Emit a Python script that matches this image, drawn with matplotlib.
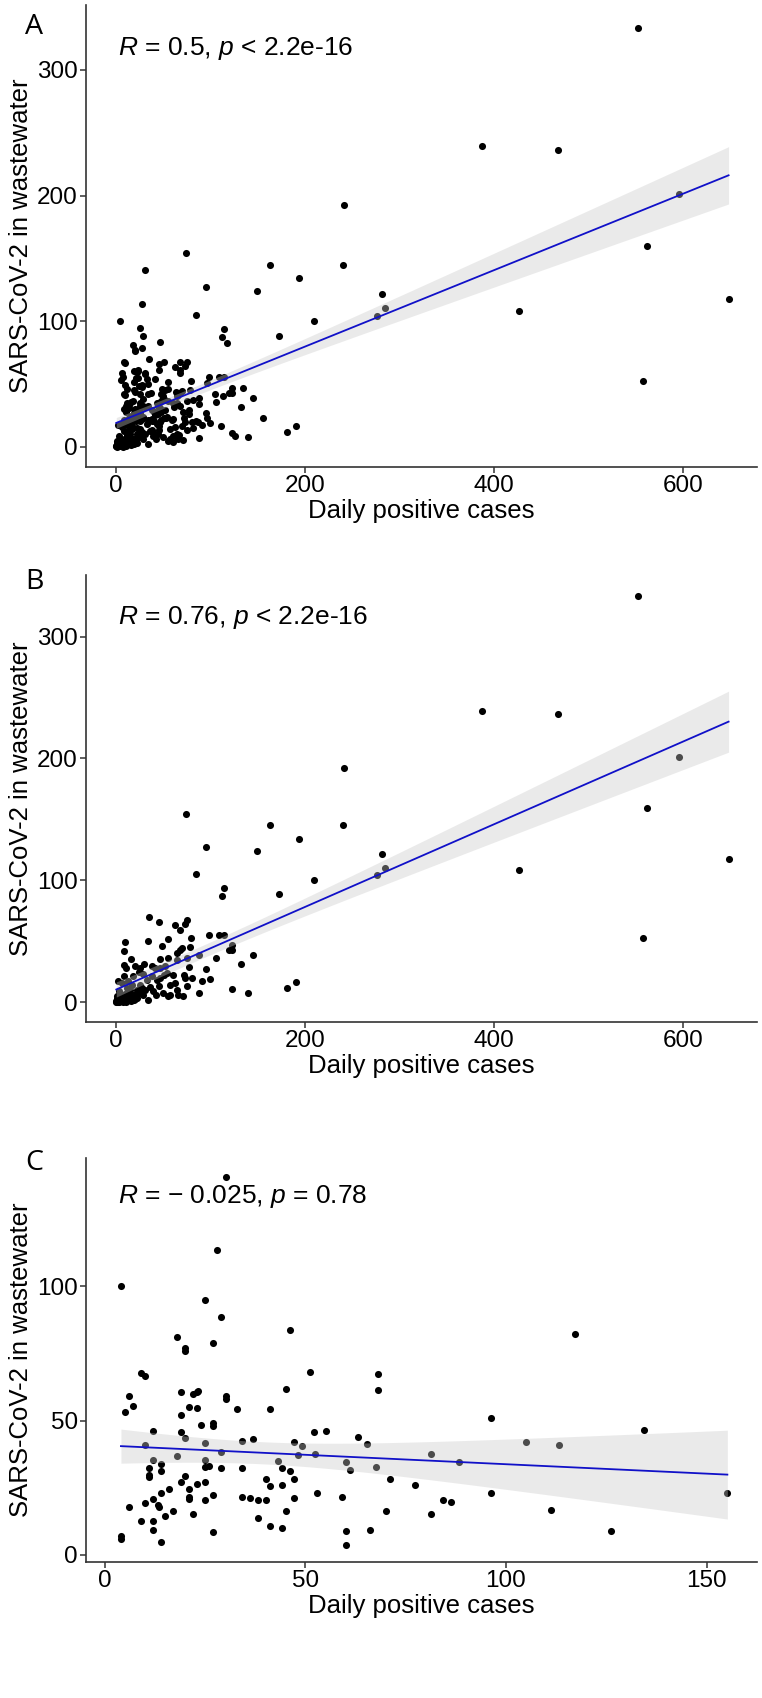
import numpy as np
import matplotlib
matplotlib.use('Agg')
import matplotlib.pyplot as plt

plt.rcParams['font.family'] = ['Liberation Sans', 'DejaVu Sans']
plt.rcParams['mathtext.fontset'] = 'custom'
plt.rcParams['mathtext.rm'] = 'Liberation Sans'
plt.rcParams['mathtext.it'] = 'Liberation Sans:italic'

# panel B: days with larger case counts (and the low cluster)
x_b = [73.9, 95.4, 84.2, 114.4, 112.0, 162.7, 149.3, 193.7, 209.2, 172.9, 241.2, 240.5,
       275.7, 281.2, 284.8, 387.6, 467.7, 552.5, 595.0, 561.7, 426.2, 647.9, 557.4, 180.6,
       190.5, 145.0, 140.1, 131.7, 122.9,
       34.9, 45.8, 62.3, 68.0, 75.4, 72.9, 79.2, 54.9, 34.2, 9.9, 8.1, 48.6, 69.7, 68.0,
       78.2, 98.2, 108.8, 114.4, 122.9, 119.0, 122.9, 105.6, 88.0, 95.1, 99.3, 91.2, 88.0,
       15.5, 8.5, 10.6, 29.9, 37.7, 46.5, 51.8, 54.6, 64.4, 74.6, 64.1, 76.8, 73.2, 80.9,
       71.8, 60.6, 62.3, 53.5, 57.0, 55.3, 65.8, 70.4, 43.0, 45.8, 42.3, 33.1, 28.9, 23.9,
       18.3, 25.4, 21.8, 28.9, 34.2, 18.3, 14.8, 11.3, 2.5, 6.0, 13.0, 8.5, 50.7, 46.5,
       41.5, 57.0, 64.1, 74.6,
       0.5, 1.5, 2.5, 3.0, 4.0, 5.0, 6.0, 7.0, 8.0, 9.0, 10.0, 12.0, 13.0, 15.0, 16.0,
       20.0, 24.0, 27.0, 31.0, 36.0, 39.0, 50.0, 47.0, 38.0, 20.0, 25.0, 12.0, 3.0, 1.0, 17.0,
       0.3, 0.8, 1.2, 2.0, 2.8, 3.5, 4.5, 5.5, 6.5, 7.5, 8.5, 9.5, 11.0, 12.5, 14.0,
       16.0, 18.0, 19.5, 21.0, 22.5, 1.0, 3.2, 5.2, 7.2, 10.5]
y_b = [154.1, 127.3, 104.9, 94.0, 87.4, 145.1, 123.8, 134.2, 100.0, 88.5, 192.1, 145.1,
       104.4, 121.6, 110.4, 239.1, 236.3, 333.3, 201.6, 159.8, 108.5, 117.5, 52.7, 11.7,
       16.7, 38.8, 7.7, 31.7, 11.2,
       69.7, 66.1, 63.4, 59.0, 67.8, 64.2, 52.7, 51.6, 50.0, 49.2, 42.3, 45.9, 44.5, 43.2,
       45.1, 55.5, 55.5, 55.5, 46.7, 43.2, 43.2, 36.1, 39.1, 27.3, 18.9, 17.8, 7.4,
       35.8, 30.3, 28.1, 31.4, 29.5, 28.4, 29.5, 36.3, 40.4, 36.3, 35.0, 29.2, 19.7, 19.7,
       22.7, 22.4, 15.8, 24.0, 14.5, 4.9, 6.3, 5.5, 18.6, 13.1, 6.3, 18.6, 23.5, 24.6,
       21.3, 14.5, 10.4, 6.3, 2.2, 6.3, 3.6, 4.9, 17.2, 15.8, 17.2, 21.3, 22.7, 35.5,
       28.1, 6.3, 10.4, 13.1,
       1.0, 2.5, 0.5, 3.5, 1.5, 5.0, 2.0, 0.8, 3.5, 6.5, 1.5, 8.0, 2.5, 10.0, 6.0,
       3.0, 8.0, 12.0, 10.0, 13.0, 9.0, 8.0, 20.0, 22.0, 30.0, 28.0, 12.0, 9.0, 5.0, 14.0,
       0.4, 1.8, 0.2, 1.2, 2.2, 0.6, 3.0, 1.0, 4.2, 1.6, 0.9, 3.8, 0.7, 5.2, 2.4,
       1.4, 4.6, 2.0, 6.8, 3.4, 2.8, 4.8, 6.0, 0.3, 2.6]

# panel C: days with lower case counts
x_c = [4.0, 4.0, 4.0, 4.9, 6.0, 6.9, 6.0, 8.9, 10.0, 8.9, 10.0, 10.0, 12.0, 12.0, 11.0,
       11.0, 11.0, 12.0, 13.2, 13.4, 12.0, 12.0, 14.0, 14.0, 14.0, 14.0, 15.0, 16.0, 17.0,
       18.0, 18.0, 19.1, 19.1, 19.1, 19.1, 20.0, 20.0, 20.0, 20.0, 21.0, 21.0, 21.0, 21.0,
       22.0, 22.0, 23.0, 23.3, 23.0, 23.0, 24.0, 25.0, 25.0, 25.0, 25.0, 26.0, 25.0, 25.0,
       27.0, 27.0, 27.0, 27.0, 27.0, 28.0, 29.0, 29.0, 29.0, 30.2, 30.2, 30.2, 33.0, 34.2,
       34.2, 34.2, 36.1, 37.0, 38.1, 38.1, 40.2, 40.2, 41.2, 41.2, 41.2, 43.2, 44.2, 44.2,
       44.2, 45.2, 45.2, 46.2, 46.2, 47.2, 47.2, 47.2, 48.2, 49.2, 51.2, 52.2, 52.3, 53.0,
       55.2, 59.0, 60.2, 60.2, 60.2, 61.2, 63.2, 65.4, 66.2, 67.5, 68.2, 68.2,
       71.2, 70.1, 77.2, 81.2, 81.2, 84.2, 86.2, 88.2, 96.2, 96.2, 105.1, 111.2, 113.2,
       117.3, 126.1, 134.3, 155.2]
y_c = [100.0, 7.2, 5.8, 53.3, 59.2, 55.5, 18.0, 67.5, 66.5, 12.6, 41.0, 19.5, 46.0, 35.3,
       32.5, 29.7, 29.0, 20.7, 18.5, 18.0, 12.6, 9.4, 33.7, 31.2, 23.0, 4.8, 14.4, 24.4,
       16.4, 81.2, 36.8, 60.6, 52.0, 45.6, 27.1, 76.8, 76.0, 43.4, 29.5, 55.0, 24.4, 21.7,
       21.0, 15.1, 60.0, 60.7, 61.0, 54.8, 26.4, 48.3, 94.8, 41.8, 35.3, 32.8, 33.2, 27.0,
       20.4, 79.0, 49.0, 48.0, 22.3, 8.5, 113.4, 88.6, 38.4, 32.2, 140.4, 59.2, 58.0, 54.2,
       42.5, 32.2, 21.7, 21.3, 43.1, 20.4, 13.8, 28.1, 20.4, 54.2, 25.6, 10.7, 34.9, 32.2,
       25.9, 10.0, 61.6, 16.4, 83.5, 31.2, 41.9, 28.1, 21.3, 37.2, 40.5, 67.9, 45.7, 37.4,
       23.0, 46.0, 21.6, 34.6, 9.0, 3.8, 31.6, 43.7, 41.1, 9.4, 32.6, 67.4, 61.3,
       28.1, 16.5, 26.0, 37.5, 15.4, 20.4, 19.8, 34.4, 50.9, 22.9, 41.9, 16.9, 40.8,
       82.3, 8.8, 46.6, 22.9]

# panel A: all days
x_a = x_b + x_c
y_a = y_b + y_c

labels_r = ['$R$ = 0.5, $p$ < 2.2e-16',
            '$R$ = 0.76, $p$ < 2.2e-16',
            '$R$ = \u2212 0.025, $p$ = 0.78']


def draw_panel(ax, x, y, stat_text, xlim, ylim, xticks, yticks):
    x = np.array(x)
    y = np.array(y)
    ax.scatter(x, y, s=26, color='black', linewidths=0, zorder=2)

    # linear fit with 95% confidence band
    n = len(x)
    slope, icpt = np.polyfit(x, y, 1)
    xs = np.linspace(x.min(), x.max(), 100)
    fit = icpt + slope * xs
    resid = y - (icpt + slope * x)
    s = np.sqrt(np.sum(resid ** 2) / (n - 2))
    sxx = np.sum((x - x.mean()) ** 2)
    se = s * np.sqrt(1.0 / n + (xs - x.mean()) ** 2 / sxx)
    ax.fill_between(xs, fit - 1.97 * se, fit + 1.97 * se, color='#c9c9c9',
                    alpha=0.38, linewidth=0, zorder=3)
    ax.plot(xs, fit, color='#1010c8', linewidth=1.3, zorder=4)

    ax.set_xlim(xlim)
    ax.set_ylim(ylim)
    ax.set_xticks(xticks)
    ax.set_yticks(yticks)
    ax.spines['top'].set_visible(False)
    ax.spines['right'].set_visible(False)
    for sp in ['left', 'bottom']:
        ax.spines[sp].set_linewidth(1.2)
        ax.spines[sp].set_color('#333333')
    ax.tick_params(length=4, width=1.1, color='#333333', labelsize=17.5,
                   labelcolor='black', pad=2)
    ax.set_xlabel('Daily positive cases', fontsize=18.5, labelpad=1)
    ax.set_ylabel('SARS-CoV-2 in wastewater', fontsize=18.5, labelpad=3)
    ax.text(0.048, 0.905, stat_text, transform=ax.transAxes, fontsize=19,
            ha='left', va='center')


fig = plt.figure(figsize=(7.62, 16.98), dpi=100)
ax_a = fig.add_axes([0.1129, 0.7250, 0.8806, 0.2721])
ax_b = fig.add_axes([0.1129, 0.3981, 0.8806, 0.2633])
ax_c = fig.add_axes([0.1129, 0.0801, 0.8806, 0.2379])

draw_panel(ax_a, x_a, y_a, labels_r[0], (-31.7, 678), (-15.9, 351.6),
           [0, 200, 400, 600], [0, 100, 200, 300])
draw_panel(ax_b, x_b, y_b, labels_r[1], (-31.7, 678), (-16.1, 350.5),
           [0, 200, 400, 600], [0, 100, 200, 300])
draw_panel(ax_c, x_c, y_c, labels_r[2], (-4.7, 162.6), (-2.6, 147.6),
           [0, 50, 100, 150], [0, 50, 100])

# panel letters, placed in figure pixels
for letter, ypix in zip(['A', 'B', 'C'], [27, 582, 1163]):
    fig.text(34 / 762, 1 - ypix / 1698, letter, fontsize=20.5,
             family=['Open Sans', 'DejaVu Sans'], ha='center', va='center')

fig.savefig('out.png', dpi=100)
